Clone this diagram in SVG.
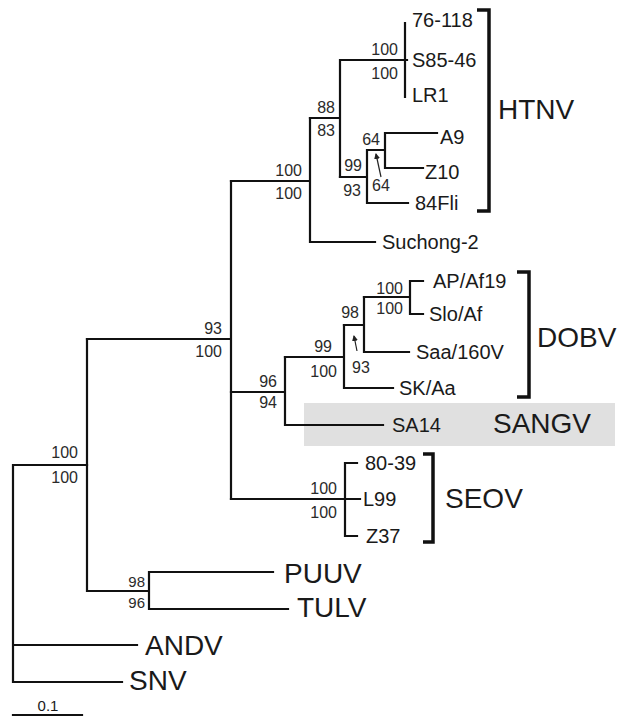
<svg xmlns="http://www.w3.org/2000/svg" width="620" height="718" viewBox="0 0 620 718">
<style>
  .ln{fill:none;stroke:#111;stroke-width:2.2;stroke-linecap:square;stroke-linejoin:miter}
  .br{fill:none;stroke:#111;stroke-width:3.5;stroke-linejoin:miter}
  .ar{fill:none;stroke:#222;stroke-width:1.2}
  text{font-family:"Liberation Sans",Arial,sans-serif;fill:#1a1a1a}
  .bs{font-size:16px;fill:#2a2a2a}
  .bs2{font-size:15px;fill:#2a2a2a}
  .lf{font-size:20px}
  .cl{font-size:28px}
  .sc{font-size:15px}
</style>
<defs>
  <marker id="ah" markerWidth="6" markerHeight="6" refX="5" refY="3" orient="auto" markerUnits="userSpaceOnUse">
    <path d="M0,0 L6,3 L0,6 Z" fill="#222"/>
  </marker>
</defs>
<rect id="sangv-box" x="304" y="403" width="311" height="43" fill="#e0e0e0"/>
<g id="connectors">
  <path class="ln" d="M13,465 V682 M13,645 H137 M13,682 H122 M13,465 H87"/>
  <path class="ln" d="M87,339 V591 M87,591 H149 M149,572 V609 M149,572 H273 M149,609 H288"/>
  <path class="ln" d="M87,339 H231 M231,181 V499"/>
  <path class="ln" d="M231,181 H310 M310,118 V242 M310,242 H375"/>
  <path class="ln" d="M310,118 H340 M340,60 V177 M340,60 H407 M405,23 V97"/>
  <path class="ln" d="M340,177 H367 M367,150 V203 M367,203 H408 M367,150 H385 M385,133 V168 M385,133 H437 M385,168 H423"/>
  <path class="ln" d="M231,392 H285 M285,357 V425 M285,425 H383"/>
  <path class="ln" d="M285,357 H344 M344,325 V388 M344,388 H393"/>
  <path class="ln" d="M344,325 H364 M364,297 V352 M364,352 H409"/>
  <path class="ln" d="M364,297 H410 M410,281 V314 M410,281 H423 M410,314 H423"/>
  <path class="ln" d="M231,499 H360 M345,463 V536 M345,463 H357 M345,536 H357"/>
  <line class="ar" x1="381" y1="177" x2="376" y2="154" marker-end="url(#ah)"/>
  <line class="ar" x1="357" y1="351" x2="354" y2="336" marker-end="url(#ah)"/>
  <path class="ln" d="M13,715 H82"/>
</g>
<g id="brackets">
  <path class="br" d="M477,10 H489 V211 H477"/>
  <path class="br" d="M517,272 H529 V397 H517"/>
  <path class="br" d="M423,454 H433 V542 H423"/>
</g>
<g id="bootstrap">
  <text class="bs" x="78" y="458" text-anchor="end">100</text>
  <text class="bs" x="78" y="483" text-anchor="end">100</text>
  <text class="bs" x="222" y="334" text-anchor="end">93</text>
  <text class="bs" x="222" y="357" text-anchor="end">100</text>
  <text class="bs" x="302" y="176" text-anchor="end">100</text>
  <text class="bs" x="302" y="199" text-anchor="end">100</text>
  <text class="bs" x="335" y="113" text-anchor="end">88</text>
  <text class="bs" x="335" y="136" text-anchor="end">83</text>
  <text class="bs" x="398" y="55" text-anchor="end">100</text>
  <text class="bs" x="398" y="79" text-anchor="end">100</text>
  <text class="bs" x="362" y="171" text-anchor="end">99</text>
  <text class="bs" x="361" y="196" text-anchor="end">93</text>
  <text class="bs" x="380" y="145" text-anchor="end">64</text>
  <text class="bs" x="372" y="191">64</text>
  <text class="bs" x="277" y="387" text-anchor="end">96</text>
  <text class="bs" x="277" y="408" text-anchor="end">94</text>
  <text class="bs" x="332" y="352" text-anchor="end">99</text>
  <text class="bs" x="337" y="377" text-anchor="end">100</text>
  <text class="bs" x="359" y="318" text-anchor="end">98</text>
  <text class="bs" x="352" y="373">93</text>
  <text class="bs" x="403" y="294" text-anchor="end">100</text>
  <text class="bs" x="403" y="314" text-anchor="end">100</text>
  <text class="bs" x="337" y="494" text-anchor="end">100</text>
  <text class="bs" x="337" y="518" text-anchor="end">100</text>
  <text class="bs2" x="145" y="587" text-anchor="end">98</text>
  <text class="bs2" x="145" y="608" text-anchor="end">96</text>
</g>
<g id="leaf-76-118"><text class="lf" x="412" y="27">76-118</text></g>
<g id="leaf-S85-46"><text class="lf" x="412" y="67">S85-46</text></g>
<g id="leaf-LR1"><text class="lf" x="412" y="102">LR1</text></g>
<g id="leaf-A9"><text class="lf" x="440" y="144">A9</text></g>
<g id="leaf-Z10"><text class="lf" x="425" y="179">Z10</text></g>
<g id="leaf-84Fli"><text class="lf" x="415" y="210">84Fli</text></g>
<g id="leaf-Suchong-2"><text class="lf" x="382" y="249">Suchong-2</text></g>
<g id="leaf-APAf19"><text class="lf" x="433" y="288">AP/Af19</text></g>
<g id="leaf-SloAf"><text class="lf" x="429" y="321">Slo/Af</text></g>
<g id="leaf-Saa160V"><text class="lf" x="416" y="359">Saa/160V</text></g>
<g id="leaf-SKAa"><text class="lf" x="399" y="395">SK/Aa</text></g>
<g id="leaf-SA14"><text class="lf" x="392" y="432">SA14</text></g>
<g id="leaf-80-39"><text class="lf" x="365" y="470">80-39</text></g>
<g id="leaf-L99"><text class="lf" x="363" y="506">L99</text></g>
<g id="leaf-Z37"><text class="lf" x="366" y="543">Z37</text></g>
<g id="clade-HTNV"><text class="cl" x="498" y="119">HTNV</text></g>
<g id="clade-DOBV"><text class="cl" x="537" y="347">DOBV</text></g>
<g id="clade-SANGV"><text class="cl" x="493" y="433">SANGV</text></g>
<g id="clade-SEOV"><text class="cl" x="445" y="508">SEOV</text></g>
<g id="leaf-PUUV"><text class="cl" x="284" y="583">PUUV</text></g>
<g id="leaf-TULV"><text class="cl" x="297" y="617">TULV</text></g>
<g id="leaf-ANDV"><text class="cl" x="145" y="655">ANDV</text></g>
<g id="leaf-SNV"><text class="cl" x="129" y="690">SNV</text></g>
<g id="scale"><text class="sc" x="48" y="711" text-anchor="middle">0.1</text></g>
</svg>
